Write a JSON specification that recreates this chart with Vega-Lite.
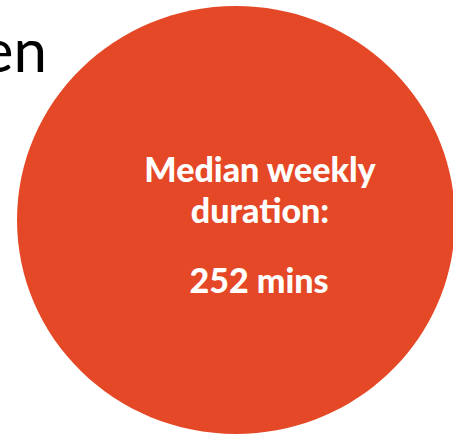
{
  "$schema": "https://vega.github.io/schema/vega-lite/v6.json",
  "width": 453,
  "height": 435,
  "autosize": {"type": "none"},
  "padding": 0,
  "background": "white",
  "config": {"view": {"stroke": null}},
  "encoding": {
    "x": {"field": "x", "type": "quantitative", "scale": {"domain": [0, 453], "nice": false, "zero": false}, "axis": null},
    "y": {"field": "y", "type": "quantitative", "scale": {"domain": [0, 435], "nice": false, "zero": false, "reverse": true}, "axis": null}
  },
  "layer": [
    {
      "data": {"values": [{"x": 236, "y": 220, "label": "circle"}]},
      "mark": {
        "type": "point",
        "filled": true,
        "opacity": 1,
        "color": "#E54826",
        "strokeWidth": 0,
        "shape": "M-1,0A1,0.977,0,1,0,1,0A1,0.977,0,1,0,-1,0Z",
        "size": 191844
      }
    },
    {
      "data": {"values": [{"x": 47, "y": 72, "text": "en"}]},
      "mark": {"type": "text", "align": "right", "baseline": "alphabetic", "font": "Lato", "fontSize": 60, "color": "black"},
      "encoding": {"text": {"field": "text", "type": "nominal"}}
    },
    {
      "data": {"values": [
        {"x": 260, "y": 182, "text": "Median weekly"},
        {"x": 260, "y": 223, "text": "dura\u200ction:"},
        {"x": 259, "y": 293, "text": "252 mins"}
      ]},
      "mark": {"type": "text", "align": "center", "baseline": "alphabetic", "font": "Lato", "fontSize": 34, "fontWeight": 900, "color": "white"},
      "encoding": {"text": {"field": "text", "type": "nominal"}}
    }
  ]
}
